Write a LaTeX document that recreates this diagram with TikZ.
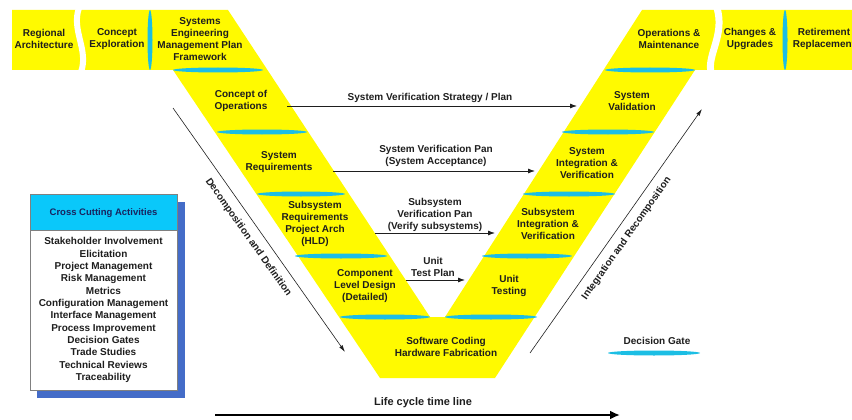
\documentclass[tikz,border=0pt]{standalone}
\usepackage{fontspec}
\setmainfont{Liberation Sans}
\usetikzlibrary{arrows.meta}

\definecolor{vyellow}{RGB}{255,250,0}
\definecolor{gatecyan}{RGB}{28,190,228}
\definecolor{headcyan}{RGB}{10,200,250}
\definecolor{shadowblue}{RGB}{68,108,200}
\definecolor{navy}{RGB}{25,35,95}
\definecolor{ink}{RGB}{30,30,30}

\tikzset{
  phase/.style={align=center, text=ink, inner sep=0pt},
  gate/.style={fill=gatecyan},
  plan/.style={draw=ink, line width=0.8pt, -{Latex[length=7pt,width=5pt]}},
  diag/.style={draw=ink, line width=0.6pt, -{Latex[length=7pt,width=4pt]}},
  timeline/.style={draw=black, line width=2.5pt, -{Latex[length=10pt,width=9pt]}},
}

\begin{document}
\begin{tikzpicture}[x=1pt, y=-1pt, font=\fontsize{10}{12.2}\selectfont\bfseries]
		\useasboundingbox (0,0) rectangle (852,420);
		\clip (0,0) rectangle (852,420);

		% the V band
		\fill[vyellow] (12,10) -- (228,10) -- (430,317) -- (445,317) -- (642,10) -- (852,10)
			-- (852,70) -- (695,70) -- (495,378) -- (380,378) -- (173,70) -- (12,70) -- cycle;
		\draw[white, line width=6pt] (79,8) .. controls (71,30) and (89,50) .. (81,72);
		\draw[white, line width=7pt] (717,8) .. controls (725,35) and (707,55) .. (711,72);

		% decision gates
		\fill[gate] (150,40) ellipse (2.5pt and 30pt);
		\fill[gate] (785,40) ellipse (2.5pt and 30pt);
		\fill[gate] (218,70) ellipse (45pt and 2.5pt);
		\fill[gate] (262,132) ellipse (45pt and 2.5pt);
		\fill[gate] (301,194) ellipse (44pt and 2.5pt);
		\fill[gate] (341,256) ellipse (46pt and 2.5pt);
		\fill[gate] (385,317) ellipse (45pt and 2.5pt);
		\fill[gate] (650,70) ellipse (45pt and 2.5pt);
		\fill[gate] (608,132) ellipse (46pt and 2.5pt);
		\fill[gate] (569,194) ellipse (46pt and 2.5pt);
		\fill[gate] (527,256) ellipse (45pt and 2.5pt);
		\fill[gate] (491,317) ellipse (46pt and 2.5pt);
		\fill[gate] (654,353) ellipse (46pt and 2.5pt);

		\node[phase] (regarch) at (44,39) {Regional\\Architecture};
		\node[phase] (conexp) at (117,39) {Concept\\Exploration};
		\node[phase] (semp) at (200,39) {Systems\\Engineering\\Management Plan\\Framework};
		\node[phase] (conops) at (241,101) {Concept of\\Operations};
		\node[phase] (sysreq) at (279,162) {System\\Requirements};
		\node[phase] (subreq) at (315,224) {Subsystem\\Requirements\\Project Arch\\(HLD)};
		\node[phase] (compdes) at (365,286) {Component\\Level Design\\(Detailed)};
		\node[phase] (coding) at (446,347) {Software Coding\\Hardware Fabrication};
		\node[phase] (unittest) at (509,286) {Unit\\Testing};
		\node[phase] (subint) at (548,224) {Subsystem\\Integration \&\\Verification};
		\node[phase] (sysint) at (587,163) {System\\Integration \&\\Verification};
		\node[phase] (sysval) at (632,101) {System\\Validation};
		\node[phase] (opsmaint) at (669,39) {Operations \&\\Maintenance};
		\node[phase] (changes) at (750,39) {Changes \&\\Upgrades};
		\node[phase] (retire) at (824,39) {Retirement\\Replacement};

		% verification plans
		\node[phase] (svplan) at (430,98) {System Verification Strategy / Plan};
		\node[phase] (sacc) at (436,156) {System Verification Pan\\(System Acceptance)};
		\node[phase] (subver) at (435,215) {Subsystem\\Verification Pan\\(Verify subsystems)};
		\node[phase] (utplan) at (433,267) {Unit\\Test Plan};

		\coordinate (sv1) at (287,106);
		\coordinate (sv2) at (577,106);
		\coordinate (sa1) at (333,171);
		\coordinate (sa2) at (535,171);
		\coordinate (ss1) at (375,233);
		\coordinate (ss2) at (495,233);
		\coordinate (ut1) at (406,280);
		\coordinate (ut2) at (465,280);

		\path (sv1) edge[plan] (sv2);
		\path (sa1) edge[plan] (sa2);
		\path (ss1) edge[plan] (ss2);
		\path (ut1) edge[plan] (ut2);

		\coordinate (dd1) at (173,108);
		\coordinate (dd2) at (345,352);
		\coordinate (ir1) at (530,353);
		\coordinate (ir2) at (702,109);

		\path (dd1) edge[diag] node[phase, sloped, below=8pt] {Decomposition and Definition} (dd2);
		\path (ir1) edge[diag] node[phase, sloped, below=8pt] {Integration and Recomposition} (ir2);

		% cross cutting activities
		\fill[shadowblue] (37,202) rectangle (185,398);
		\filldraw[fill=white, draw=gray] (30,194) rectangle (177,390);
		\filldraw[fill=headcyan, draw=gray] (30,194) rectangle (177,230);
		\node[phase, text=navy, font=\fontsize{9.5}{11}\selectfont\bfseries] (cchead) at (103.5,213) {Cross Cutting Activities};
		\node[phase, font=\fontsize{10}{12.35}\selectfont\bfseries] (cclist) at (103.5,310) {Stakeholder Involvement\\Elicitation\\Project Management\\Risk Management\\Metrics\\Configuration Management\\Interface Management\\Process Improvement\\Decision Gates\\Trade Studies\\Technical Reviews\\Traceability};

		\node[phase] (dglegend) at (657,341) {Decision Gate};

		% time line
		\node[phase, font=\fontsize{11}{13}\selectfont\bfseries] (lifecycle) at (423,403) {Life cycle time line};
		\coordinate (tl1) at (215,415);
		\coordinate (tl2) at (620,415);
		\path (tl1) edge[timeline] (tl2);
	\end{tikzpicture}
\end{document}
